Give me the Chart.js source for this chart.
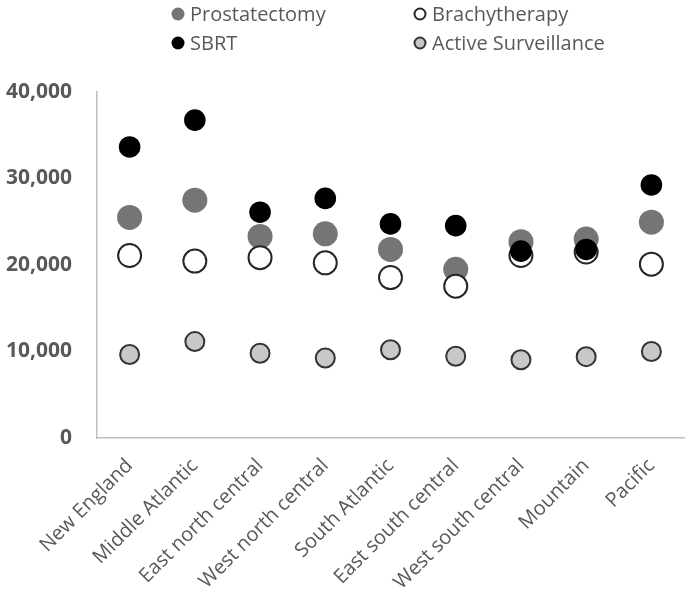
<!DOCTYPE html>
<html lang="en">
<head>
    <meta charset="UTF-8">
    <title>Cost by region</title>
    <script src="https://cdn.jsdelivr.net/npm/chart.js"></script>
    <style>
        body { margin: 0; background: #fff; }
        #wrap { width: 688px; height: 600px; }
    </style>
</head>
<body>
    <div id="wrap"><canvas id="chart" width="688" height="600"></canvas></div>

    <script>
        const regions = ['New England', 'Middle Atlantic', 'East north central', 'West north central',
            'South Atlantic', 'East south central', 'West south central', 'Mountain', 'Pacific'];
        const seriesNames = ['Prostatectomy', 'Brachytherapy', 'SBRT', 'Active Surveillance'];
        const prostatectomy = [25500, 27500, 23300, 23600, 21800, 19500, 22700, 23000, 24950];
        const brachytherapy = [21100, 20450, 20850, 20250, 18550, 17550, 21100, 21500, 20100];
        const sbrt = [33650, 36750, 26100, 27700, 24750, 24550, 21600, 21800, 29250];
        const activeSurveillance = [9650, 11150, 9800, 9250, 10200, 9450, 9050, 9400, 10000];
        const yTicks = [0, 10000, 20000, 30000, 40000];

        const textGray = '#595959';
        const axisGray = '#bfbfbf';
        const fontFamily = '"Open Sans", "Noto Sans", sans-serif';

        // marker styles per series (legend + points)
        const styles = [
            { bg: '#757575', border: '#757575', bw: 0, r: 12.5, lr: 6.5 },
            { bg: '#ffffff', border: '#262626', bw: 2, r: 11.5, lr: 5.5 },
            { bg: '#000000', border: '#000000', bw: 0, r: 10.8, lr: 6.5 },
            { bg: '#c8c8c8', border: '#333333', bw: 2, r: 9.5, lr: 5.5 }
        ];
        const values = [prostatectomy, brachytherapy, sbrt, activeSurveillance];
        // draw order: SBRT on top, then Brachytherapy, AS, Prostatectomy at the bottom
        const drawOrder = [3, 1, 0, 2];

        // legend drawn by hand so the two columns line up
        const legendPos = [[178, 14], [420, 14], [178, 43], [420, 43]];
        const legendPlugin = {
            id: 'gridLegend',
            afterDraw(chart) {
                const ctx = chart.ctx;
                ctx.save();
                ctx.font = '20px ' + fontFamily;
                ctx.textBaseline = 'middle';
                seriesNames.forEach((name, i) => {
                    const [x, y] = legendPos[i];
                    const s = styles[i];
                    ctx.beginPath();
                    ctx.arc(x, y, s.lr, 0, Math.PI * 2);
                    ctx.fillStyle = s.bg;
                    ctx.fill();
                    if (s.bw) {
                        ctx.lineWidth = 2;
                        ctx.strokeStyle = s.border;
                        ctx.stroke();
                    }
                    ctx.fillStyle = textGray;
                    ctx.fillText(name, x + 12, y + 1);
                });
                ctx.restore();
            }
        };

        const datasets = seriesNames.map((name, i) => ({
            label: name,
            data: values[i],
            order: drawOrder[i],
            showLine: false,
            pointRadius: styles[i].r,
            pointBackgroundColor: styles[i].bg,
            pointBorderColor: styles[i].border,
            pointBorderWidth: styles[i].bw,
            pointHoverRadius: styles[i].r
        }));

        new Chart(document.getElementById('chart'), {
            type: 'line',
            data: { labels: regions, datasets: datasets },
            options: {
                responsive: false,
                animation: false,
                events: [],
                layout: { autoPadding: false, padding: { top: 92, right: 4, left: 0, bottom: 0 } },
                plugins: { legend: { display: false }, tooltip: { enabled: false } },
                scales: {
                    x: {
                        offset: true,
                        grid: { display: false, drawTicks: false },
                        border: { display: true, color: axisGray, width: 1.5 },
                        ticks: {
                            color: textGray,
                            font: { family: fontFamily, size: 20 },
                            minRotation: 45,
                            maxRotation: 45,
                            padding: 16,
                            autoSkip: false
                        },
                        afterFit(scale) {
                            scale.height = 162;
                            scale.paddingRight = 0;
                            scale.paddingLeft = 0;
                        }
                    },
                    y: {
                        min: 0,
                        max: 40000,
                        grid: { display: false, drawTicks: false },
                        border: { display: true, color: axisGray, width: 1.5 },
                        afterBuildTicks(scale) { scale.ticks = yTicks.map(v => ({ value: v })); },
                        ticks: {
                            color: textGray,
                            font: { family: fontFamily, size: 21, weight: 'bold' },
                            padding: 25,
                            callback: v => v.toLocaleString('en-US')
                        },
                        afterFit(scale) { scale.width = 97; }
                    }
                }
            },
            plugins: [legendPlugin]
        });
    </script>
</body>
</html>
